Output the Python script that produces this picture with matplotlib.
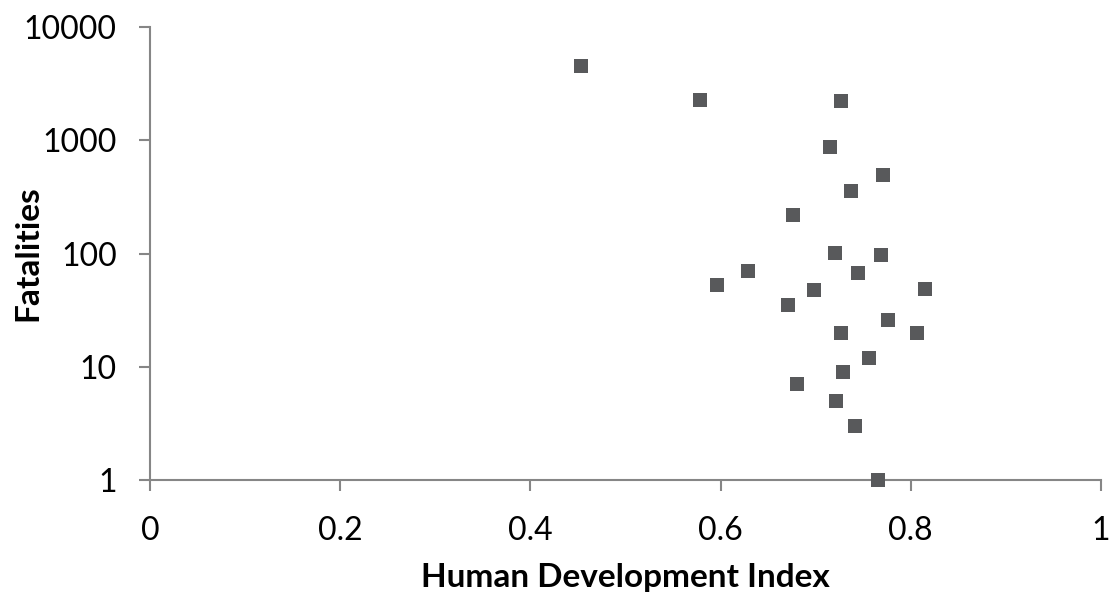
import matplotlib.pyplot as plt
from matplotlib.ticker import FixedLocator, FuncFormatter

# Human Development Index vs fatalities
hdi = [0.453, 0.578, 0.727, 0.715, 0.771, 0.737, 0.676,
       0.720, 0.769, 0.629, 0.744, 0.596, 0.698, 0.815,
       0.671, 0.776, 0.727, 0.806, 0.756, 0.729, 0.680,
       0.721, 0.741, 0.765]
fatalities = [4540, 2275, 2230, 875, 495, 357, 219,
              101, 97, 70, 67, 53, 48, 49,
              35, 26, 20, 20, 12, 9, 7,
              5, 3, 1]

x_ticks = [0, 0.2, 0.4, 0.6, 0.8, 1]
y_ticks = [1, 10, 100, 1000, 10000]

plt.rcParams['font.family'] = ['Lato', 'DejaVu Sans']

fig = plt.figure(figsize=(11.11, 5.96), dpi=100)
ax = fig.add_axes([0.135, 0.1946, 0.856, 0.760])

ax.scatter(hdi, fatalities, marker='s', s=110, color='#58595B',
           linewidths=0, zorder=3, clip_on=False)

ax.set_yscale('log')
ax.set_xlim(0, 1)
ax.set_ylim(1, 10000)
ax.xaxis.set_major_locator(FixedLocator(x_ticks))
ax.yaxis.set_major_locator(FixedLocator(y_ticks))
ax.yaxis.set_minor_locator(FixedLocator([]))
ax.xaxis.set_major_formatter(FuncFormatter(lambda v, p: f'{v:g}'))
ax.yaxis.set_major_formatter(FuncFormatter(lambda v, p: f'{v:g}'))

for side in ['top', 'right']:
    ax.spines[side].set_visible(False)
for side in ['left', 'bottom']:
    ax.spines[side].set_color('#868686')
    ax.spines[side].set_linewidth(1.5)

ax.tick_params(axis='both', direction='out', length=8, width=1.5,
               color='#868686', labelsize=23, labelcolor='black')
ax.tick_params(axis='x', pad=18)
ax.tick_params(axis='y', pad=16)

ax.set_xlabel('Human Development Index', fontsize=24, fontweight='bold')
ax.set_ylabel('Fatalities', fontsize=24, fontweight='bold')
ax.xaxis.set_label_coords(0.5, -0.183)
ax.yaxis.set_label_coords(-0.113, 0.5)

fig.savefig('out.png', dpi=100)
